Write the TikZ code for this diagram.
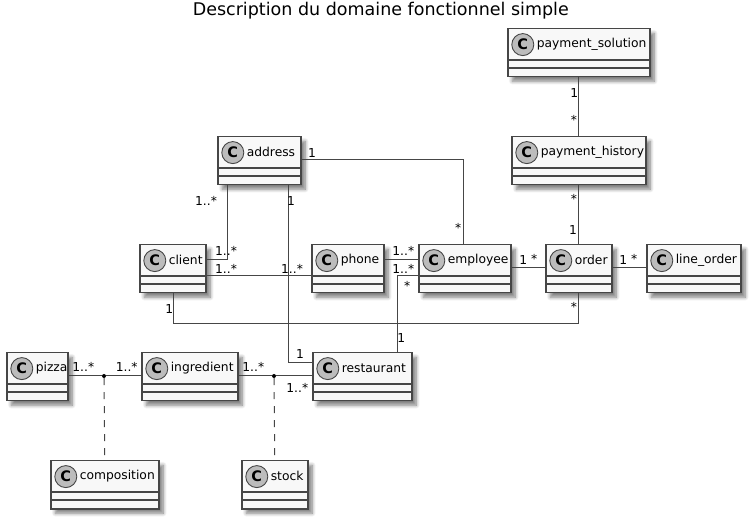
\documentclass[tikz,border=0pt]{standalone}
\usepackage{fontspec}
\setmainfont{DejaVu Sans}
\usetikzlibrary{calc}
\usetikzlibrary{shadows.blur}

\definecolor{umlline}{RGB}{70,70,70}
\definecolor{umlfill}{RGB}{248,248,248}
\definecolor{umlspot}{RGB}{188,188,188}

\tikzset{
  umlclass/.style={draw=umlline,fill=umlfill,line width=1.5pt,anchor=north west,inner sep=0pt,
    minimum height=48pt,blur shadow={shadow xshift=4.5pt,shadow yshift=-4.5pt,shadow blur steps=8,shadow blur radius=3.5pt,shadow opacity=50}},
  umlname/.style={anchor=west,inner sep=0pt,font=\fontsize{12.3}{14}\selectfont},
  umlspotc/.style={circle,draw=umlline,fill=umlspot,line width=0.9pt,minimum size=22pt,inner sep=0pt,font=\fontsize{14.5}{14}\bfseries\selectfont},
  umlmult/.style={inner sep=0pt,font=\fontsize{12.3}{14}\selectfont},
  umlassoc/.style={draw=umlline,line width=1pt},
  umlnote/.style={draw=umlline,line width=1pt,dash pattern=on 7pt off 7pt},
  umldot/.style={circle,fill=black,minimum size=4pt,inner sep=0pt}
}

\begin{document}
\begin{tikzpicture}[x=1pt,y=1pt,yscale=-1,xscale=1]
\useasboundingbox (0,0) rectangle (750,518);

% Title
\node (title) at (380.8,11) {\fontsize{17.5}{20}\selectfont Description du domaine fonctionnel simple};

% Classes
\foreach \nm/\txt/\xx/\yy/\ww in {
  paysol/payment\_solution/507/28/142,
  payhist/payment\_history/511/136/134,
  address/address/217/136/83,
  client/client/139/244/66,
  phone/phone/311/244/72,
  employee/employee/418/244/92,
  order/order/545/244/66,
  lineorder/line\_order/646/244/94,
  pizza/pizza/6/352/61,
  ingredient/ingredient/141/352/96,
  restaurant/restaurant/312/352/99,
  composition/composition/50/460/108,
  stock/stock/241/460/66}
{
  \node [umlclass,minimum width=\ww pt] (\nm) at (\xx,\yy) {};
  \node [umlspotc] (\nm-spot) at ($(\nm.north west)+(15.8,16.6)$) {C};
  \node [umlname] (\nm-name) at ($(\nm.north west)+(29.6,16.4)$) {\txt};
  \draw [draw=umlline,line width=1.5pt] ($(\nm.north west)+(0,32)$) -- ($(\nm.north east)+(0,32)$);
  \draw [draw=umlline,line width=1.5pt] ($(\nm.north west)+(0,40)$) -- ($(\nm.north east)+(0,40)$);
}

% Association dots
\node [umldot] (dotcomp) at (104,376) {};
\node [umldot] (dotstock) at (274,376) {};

% Connectors
\draw [umlassoc] (paysol.south) -- (payhist.north);
\draw [umlassoc] (payhist.south) -- (order.north);
\draw [umlassoc] ($(address.north east)+(0,24)$) -| ($(employee.north west)+(45,0)$);
\draw [umlassoc] ($(address.south west)+(10,0)$) |- ($(client.north east)+(0,16)$);
\draw [umlassoc] ($(address.south west)+(71,0)$) |- ($(restaurant.north west)+(0,11)$);
\draw [umlassoc] ($(client.north east)+(0,32)$) -- ($(phone.north west)+(0,32)$);
\draw [umlassoc] ($(client.south west)+(34,0)$) |- ($(order.south)+(0,30)$) -- (order.south);
\draw [umlassoc] ($(phone.north east)+(0,16)$) -- ($(employee.north west)+(0,16)$);
\draw [umlassoc] ($(employee.north west)+(0,32)$) -| ($(restaurant.north west)+(85,0)$);
\draw [umlassoc] ($(employee.north east)+(0,24)$) -- ($(order.north west)+(0,24)$);
\draw [umlassoc] ($(order.north east)+(0,24)$) -- ($(lineorder.north west)+(0,24)$);
\draw [umlassoc] ($(pizza.north east)+(0,24)$) -- (dotcomp) -- ($(ingredient.north west)+(0,24)$);
\draw [umlassoc] ($(ingredient.north east)+(0,24)$) -- (dotstock) -- ($(restaurant.north west)+(0,24)$);
\draw [umlnote] (dotcomp) -- (composition.north);
\draw [umlnote] (dotstock) -- (stock.north);

% Multiplicities
\foreach \nm/\xx/\yy/\txt in {
  m1/574.3/92.7/1, m2/574/120/*, m3/574/199/*, m4/573/230/1,
  m5/312/152.7/1, m6/458.3/228/*, m7/206/200.7/1..*, m8/226/250.7/1..*,
  m9/291/200.7/1, m10/300/353.7/1, m11/226/269.3/1..*, m12/292/269.3/1..*,
  m13/169.3/309/1, m14/574/307/*, m15/403.3/250.7/1..*, m16/403.3/268.7/1..*,
  m17/407.3/285.7/*, m18/401.3/337.7/1, m19/523.3/260/1, m20/534.3/259/*,
  m21/623.3/260/1, m22/634.3/259/*, m23/83.3/366.7/1..*, m24/126.7/366.7/1..*,
  m25/253.3/366.7/1..*, m26/297.3/388/1..*}
{
  \node [umlmult] (\nm) at (\xx,\yy) {\txt};
}

\end{tikzpicture}
\end{document}
